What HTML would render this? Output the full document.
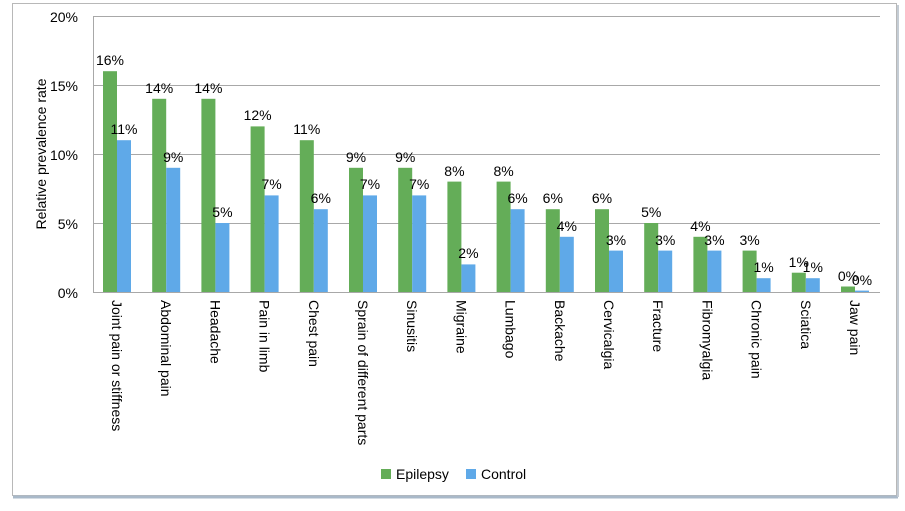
<!DOCTYPE html>
<html><head><meta charset="utf-8"><style>
body{margin:0;background:#fff;}
svg{display:block;font-family:"Liberation Sans",Arial,sans-serif;}
</style></head><body>
<svg width="905" height="511" xmlns="http://www.w3.org/2000/svg">
<rect x="0" y="0" width="905" height="511" fill="#fff"/>
<rect x="12.5" y="3.5" width="884" height="492" fill="#fff" stroke="#b8b8b8"/>
<line x1="13" y1="497" x2="898" y2="497" stroke="#a9b9c9" stroke-width="3"/>
<line x1="898" y1="5" x2="898" y2="497" stroke="#c4ccd4" stroke-width="2"/>
<g stroke="#a8a8a8" stroke-width="1">
<line x1="93" y1="16.5" x2="880" y2="16.5"/>
<line x1="93" y1="85.5" x2="880" y2="85.5"/>
<line x1="93" y1="154.5" x2="880" y2="154.5"/>
<line x1="93" y1="223.5" x2="880" y2="223.5"/>
<line x1="93" y1="292.5" x2="880" y2="292.5"/>
<line x1="93.5" y1="16" x2="93.5" y2="292"/>
</g>
<g font-size="14" fill="#000" text-anchor="end">
<text x="78" y="22">20%</text><text x="78" y="91">15%</text><text x="78" y="160">10%</text><text x="78" y="229">5%</text><text x="78" y="298">0%</text>
</g>
<text transform="translate(46,154) rotate(-90)" font-size="14" text-anchor="middle">Relative prevalence rate</text>
<g fill="#64ad58">
<rect x="103" y="71.2" width="14" height="220.8"/>
<rect x="152.2" y="98.8" width="14" height="193.2"/>
<rect x="201.4" y="98.8" width="14" height="193.2"/>
<rect x="250.6" y="126.4" width="14" height="165.6"/>
<rect x="299.8" y="140.2" width="14" height="151.8"/>
<rect x="349" y="167.8" width="14" height="124.2"/>
<rect x="398.2" y="167.8" width="14" height="124.2"/>
<rect x="447.4" y="181.6" width="14" height="110.4"/>
<rect x="496.6" y="181.6" width="14" height="110.4"/>
<rect x="545.8" y="209.2" width="14" height="82.8"/>
<rect x="595" y="209.2" width="14" height="82.8"/>
<rect x="644.2" y="223" width="14" height="69"/>
<rect x="693.4" y="236.8" width="14" height="55.2"/>
<rect x="742.6" y="250.6" width="14" height="41.4"/>
<rect x="791.8" y="272.7" width="14" height="19.3"/>
<rect x="841" y="286.5" width="14" height="5.5"/>
</g>
<g fill="#5fa9e8">
<rect x="117" y="140.2" width="14" height="151.8"/>
<rect x="166.2" y="167.8" width="14" height="124.2"/>
<rect x="215.4" y="223" width="14" height="69"/>
<rect x="264.6" y="195.4" width="14" height="96.6"/>
<rect x="313.8" y="209.2" width="14" height="82.8"/>
<rect x="363" y="195.4" width="14" height="96.6"/>
<rect x="412.2" y="195.4" width="14" height="96.6"/>
<rect x="461.4" y="264.4" width="14" height="27.6"/>
<rect x="510.6" y="209.2" width="14" height="82.8"/>
<rect x="559.8" y="236.8" width="14" height="55.2"/>
<rect x="609" y="250.6" width="14" height="41.4"/>
<rect x="658.2" y="250.6" width="14" height="41.4"/>
<rect x="707.4" y="250.6" width="14" height="41.4"/>
<rect x="756.6" y="278.2" width="14" height="13.8"/>
<rect x="805.8" y="278.2" width="14" height="13.8"/>
<rect x="855" y="290.6" width="14" height="1.4"/>
</g>
<g font-size="14" text-anchor="middle">
<text x="110" y="65">16%</text><text x="124" y="134">11%</text>
<text x="159.2" y="93">14%</text><text x="173.2" y="162">9%</text>
<text x="208.4" y="93">14%</text><text x="222.4" y="217">5%</text>
<text x="257.6" y="120">12%</text><text x="271.6" y="189">7%</text>
<text x="306.8" y="134">11%</text><text x="320.8" y="203">6%</text>
<text x="356" y="162">9%</text><text x="370" y="189">7%</text>
<text x="405.2" y="162">9%</text><text x="419.2" y="189">7%</text>
<text x="454.4" y="176">8%</text><text x="468.4" y="258">2%</text>
<text x="503.6" y="176">8%</text><text x="517.6" y="203">6%</text>
<text x="552.8" y="203">6%</text><text x="566.8" y="231">4%</text>
<text x="602" y="203">6%</text><text x="616" y="245">3%</text>
<text x="651.2" y="217">5%</text><text x="665.2" y="245">3%</text>
<text x="700.4" y="231">4%</text><text x="714.4" y="245">3%</text>
<text x="749.6" y="245">3%</text><text x="763.6" y="272">1%</text>
<text x="798.8" y="267">1%</text><text x="812.8" y="272">1%</text>
<text x="848" y="281">0%</text><text x="862" y="285">0%</text>
</g>
<g font-size="14">
<text transform="translate(112,300) rotate(90)">Joint pain or stiffness</text>
<text transform="translate(161.2,300) rotate(90)">Abdominal pain</text>
<text transform="translate(210.4,300) rotate(90)">Headache</text>
<text transform="translate(259.6,300) rotate(90)">Pain in limb</text>
<text transform="translate(308.8,300) rotate(90)">Chest pain</text>
<text transform="translate(358,300) rotate(90)">Sprain of different parts</text>
<text transform="translate(407.2,300) rotate(90)">Sinusitis</text>
<text transform="translate(456.4,300) rotate(90)">Migraine</text>
<text transform="translate(505.6,300) rotate(90)">Lumbago</text>
<text transform="translate(554.8,300) rotate(90)">Backache</text>
<text transform="translate(604,300) rotate(90)">Cervicalgia</text>
<text transform="translate(653.2,300) rotate(90)">Fracture</text>
<text transform="translate(702.4,300) rotate(90)">Fibromyalgia</text>
<text transform="translate(751.6,300) rotate(90)">Chronic pain</text>
<text transform="translate(800.8,300) rotate(90)">Sciatica</text>
<text transform="translate(850,300) rotate(90)">Jaw pain</text>
</g>
<g font-size="14">
<rect x="381" y="469" width="10" height="10" fill="#64ad58"/><text x="396" y="479">Epilepsy</text>
<rect x="466" y="469" width="10" height="10" fill="#5fa9e8"/><text x="481" y="479">Control</text>
</g>
</svg>
</body></html>
